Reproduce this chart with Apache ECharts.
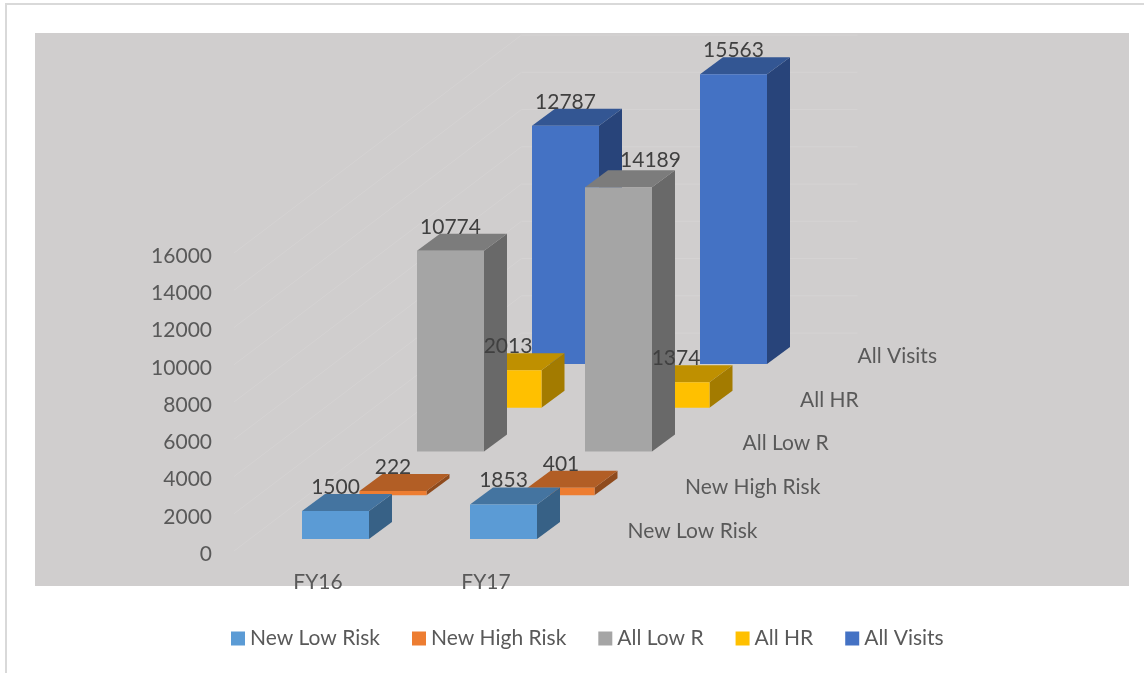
<!DOCTYPE html>
<html>
<head>
<meta charset="utf-8">
<script src="https://cdn.jsdelivr.net/npm/echarts@6/dist/echarts.min.js"></script>
<style>html,body{margin:0;padding:0;background:#fff}#c{width:1144px;height:673px}</style>
</head>
<body>
<div id="c"></div>
<script>
const categories = ['FY16', 'FY17'];
const seriesNames = ['New Low Risk', 'New High Risk', 'All Low R', 'All HR', 'All Visits'];
const newLowRisk = [1500, 1853];
const newHighRisk = [222, 401];
const allLowR = [10774, 14189];
const allHR = [2013, 1374];
const allVisits = [12787, 15563];
const yTicks = [0, 2000, 4000, 6000, 8000, 10000, 12000, 14000, 16000];

const seriesValues = [newLowRisk, newHighRisk, allLowR, allHR, allVisits];
const palette = [
  { front: '#5b9bd5', top: '#4474a0', side: '#376186' },
  { front: '#ed7d31', top: '#b25e25', side: '#8f4b1d' },
  { front: '#a5a5a5', top: '#7c7c7c', side: '#696969' },
  { front: '#ffc000', top: '#bf9000', side: '#a37b00' },
  { front: '#4472c4', top: '#335693', side: '#28447a' }
];
const FONT = 'Lato, "Open Sans", sans-serif';
const FS = 21;
// oblique projection of the chart's depth axis
const depthStep = [57.5, -43.75];
const firstRow = [17.5, -12];
const barW = 67, sideDx = 23, sideDy = -17;
const wallDx = 287.5, wallDy = -218;

function rowOffset(i) {
  return [firstRow[0] + depthStep[0] * i, firstRow[1] + depthStep[1] * i];
}

function barRender(si) {
  return function (params, api) {
    const off = rowOffset(si);
    const base = api.coord([api.value(0), 0]);
    const topP = api.coord([api.value(0), api.value(1)]);
    const l = base[0] + off[0] - barW / 2, r = l + barW;
    const b = base[1] + off[1], t = topP[1] + off[1];
    const c = palette[si];
    return {
      type: 'group',
      children: [
        { type: 'polygon', shape: { points: [[r, t], [r + sideDx, t + sideDy], [r + sideDx, b + sideDy], [r, b]] }, style: { fill: c.side } },
        { type: 'polygon', shape: { points: [[l, t], [l + sideDx, t + sideDy], [r + sideDx, t + sideDy], [r, t]] }, style: { fill: c.top } },
        { type: 'rect', shape: { x: l, y: t, width: barW, height: b - t }, style: { fill: c.front } }
      ]
    };
  };
}

const barSeries = seriesNames.map(function (name, si) {
  return {
    name: name,
    type: 'custom',
    z: 20 - si,
    silent: true,
    itemStyle: { color: palette[si].front },
    encode: { x: 0, y: 1 },
    data: seriesValues[si].map(function (v, ci) { return [ci, v]; }),
    renderItem: barRender(si)
  };
});

const labelData = [];
seriesValues.forEach(function (vals, si) {
  vals.forEach(function (v, ci) { labelData.push([ci, v, si]); });
});

const labelSeries = {
  name: 'values',
  type: 'custom',
  z: 40,
  silent: true,
  encode: { x: 0, y: 1 },
  data: labelData,
  renderItem: function (params, api) {
    const si = api.value(2), ci = api.value(0);
    const off = rowOffset(si);
    const p = api.coord([ci, api.value(1)]);
    // the FY17 All Low R label sits beside its bar in the reference
    const moved = si === 2 && ci === 1;
    return {
      type: 'text',
      style: {
        x: p[0] + off[0] + (moved ? 32 : 0), y: p[1] + off[1] - (moved ? 27 : 24),
        text: String(api.value(1)),
        fill: '#404040', font: FS + 'px ' + FONT,
        align: 'center', verticalAlign: 'middle'
      }
    };
  }
};

const depthSeries = {
  name: 'depth axis',
  type: 'custom',
  z: 5,
  silent: true,
  encode: { x: 0, y: 1 },
  data: seriesNames.map(function (n, i) { return [1, 0, i]; }),
  renderItem: function (params, api) {
    const i = api.value(2);
    const off = rowOffset(i);
    const p = api.coord([1, 0]);
    return {
      type: 'text',
      style: {
        x: p[0] + off[0] + 124, y: p[1] + off[1] - 8,
        text: seriesNames[i],
        fill: '#595959', font: FS + 'px ' + FONT,
        align: 'left', verticalAlign: 'middle'
      }
    };
  }
};

const wallSeries = {
  name: 'wall',
  type: 'custom',
  z: 1,
  silent: true,
  encode: { y: 0 },
  data: yTicks.map(function (t) { return [t]; }),
  renderItem: function (params, api) {
    const cs = params.coordSys;
    const y = api.coord([0, api.value(0)])[1];
    return {
      type: 'polyline',
      shape: { points: [[cs.x, y], [cs.x + wallDx, y + wallDy], [cs.x + wallDx + cs.width, y + wallDy]] },
      style: { fill: null, stroke: '#d5d3d3', lineWidth: 1 }
    };
  }
};

const chart = echarts.init(document.getElementById('c'), null, { renderer: 'canvas' });
chart.setOption({
  animation: false,
  backgroundColor: '#ffffff',
  textStyle: { fontFamily: FONT },
  graphic: [
    { type: 'rect', z: -10, silent: true, shape: { x: 35, y: 33, width: 1094, height: 553 }, style: { fill: '#d0cece' } },
    { type: 'rect', z: -10, silent: true, shape: { x: 5, y: 3, width: 1139, height: 2 }, style: { fill: '#d9d9d9' } },
    { type: 'rect', z: -10, silent: true, shape: { x: 5, y: 3, width: 2, height: 670 }, style: { fill: '#d9d9d9' } }
  ],
  legend: {
    left: 226,
    top: 623,
    icon: 'rect',
    itemWidth: 14,
    itemHeight: 14,
    itemGap: 32,
    data: seriesNames,
    selectedMode: false,
    textStyle: { color: '#595959', fontSize: FS, fontFamily: FONT }
  },
  grid: { left: 234, top: 253, width: 336, height: 298 },
  xAxis: {
    type: 'category',
    data: categories,
    axisLine: { show: false },
    axisTick: { show: false },
    axisLabel: { color: '#595959', fontSize: FS, margin: 21, fontFamily: FONT }
  },
  yAxis: {
    type: 'value',
    min: 0,
    max: 16000,
    interval: 2000,
    axisLine: { show: false },
    axisTick: { show: false },
    splitLine: { show: false },
    axisLabel: {
      color: '#595959', fontSize: FS, margin: 22, fontFamily: FONT,
      verticalAlign: 'top', lineHeight: 6,
      formatter: function (v) { return String(v); }
    }
  },
  series: [wallSeries, depthSeries].concat(barSeries, [labelSeries])
});
</script>
</body>
</html>
